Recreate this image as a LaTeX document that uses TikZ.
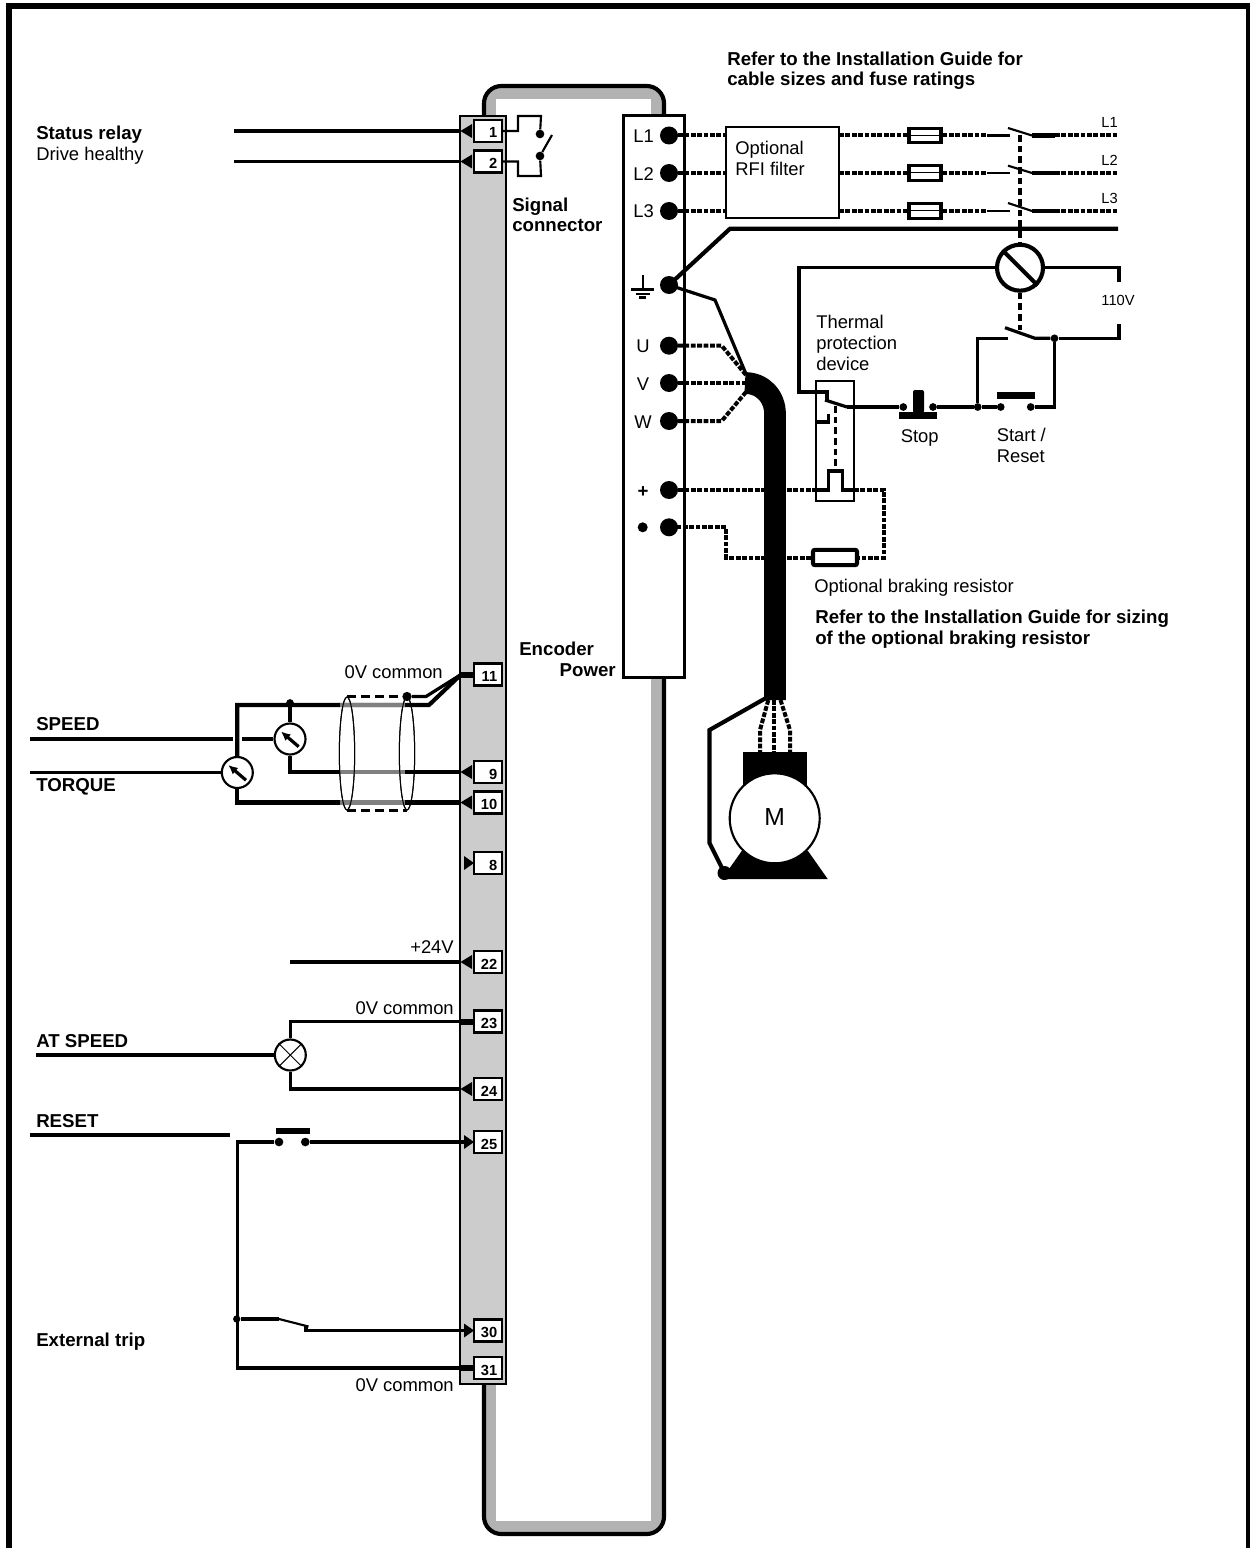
\documentclass[tikz,border=0pt]{standalone}
\usepackage{fontspec}
\setmainfont{Liberation Sans}
\usetikzlibrary{arrows.meta,shapes.geometric}
\definecolor{colgrey}{HTML}{CCCCCC}
\definecolor{tubegrey}{HTML}{B2B2B2}
\definecolor{wiregrey}{HTML}{808080}
\newcommand{\stdtext}{\fontsize{13.8pt}{15pt}\selectfont}
\newcommand{\boldtext}{\fontsize{14pt}{15pt}\selectfont\bfseries}
\tikzset{
  w1/.style={line width=0.75pt},
  w2/.style={line width=1.6pt},
  w3/.style={line width=2.4pt},
  w4/.style={line width=3.1pt},
  wire/.style={w3,line join=miter},
  dotwire/.style={line width=3pt,dash pattern=on 3.6pt off 1.2pt},
  dashwire/.style={line width=2.4pt,dash pattern=on 5pt off 3pt},
  txt/.style={inner sep=0pt,anchor=base west,font=\stdtext},
  txtb/.style={txt,font=\boldtext},
  txtr/.style={inner sep=0pt,anchor=base east,font=\stdtext},
  small/.style={inner sep=0pt,anchor=base,font=\fontsize{11pt}{12pt}\selectfont},
  termbox/.style={draw,w2,fill=white,minimum width=21pt,minimum height=16.5pt,inner sep=0pt},
  termnum/.style={inner sep=0pt,anchor=base east,font=\fontsize{11pt}{12pt}\selectfont\bfseries},
  bigdot/.style={circle,fill=black,inner sep=0pt,minimum size=13.5pt},
  smalldot/.style={circle,fill=black,inner sep=0pt,minimum size=5.8pt},
  meter/.style={circle,draw,w2,fill=white,inner sep=0pt,minimum size=23.25pt},
  shield/.style={ellipse,draw,w1,inner sep=0pt,minimum width=11.5pt,minimum height=84.75pt},
  fuse/.style={draw,w3,fill=white,inner sep=0pt,minimum width=24pt,minimum height=11pt},
}
\newcommand{\term}[3]{%
  \node[termbox] (t#1) at (488,#2) {};
  \node[termnum] (n#1) at (497.5,#2+7) {#3};
  \coordinate (p#1) at (461,#2);
  \coordinate (q#1) at (465,#2);}
\newcommand{\triL}[1]{\fill (460.5,#1) -- (472,#1-7) -- (472,#1+7) -- cycle;}
\newcommand{\triR}[1]{\fill (474,#1) -- (464,#1-7) -- (464,#1+7) -- cycle;}
\newcommand{\stub}[1]{\fill (460,#1-3) rectangle (475,#1+3);}
\newcommand{\needle}[1]{\draw[w3,-{Latex[length=7pt,width=6.5pt]}] ([shift={(8.7,7.7)}]#1.center) -- ([shift={(-9,-7.5)}]#1.center);}
\begin{document}
\begin{tikzpicture}[x=0.75pt,y=-0.75pt]
\useasboundingbox (0,0) rectangle (1249,1548);
% frame
\draw[line width=4.5pt,line join=miter] (9,1552) -- (9,6) -- (1248.5,6) -- (1248.5,1552);
% tube
\fill[tubegrey,rounded corners=10pt] (484,86) rectangle (664,1534);
\draw[w4,rounded corners=13pt] (484,86) rectangle (664,1534);
\fill[white] (496,99) rectangle (651,1521);
% columns
\draw[w2,fill=colgrey] (460,116) rectangle (506,1384);
\node[draw,w3,fill=white,inner sep=0pt,minimum width=45.75pt,minimum height=422pt] (power) at (654,396.5) {};
% terminals coordinates
\term{1}{131}{1}\term{2}{161.5}{2}\term{11}{674.5}{11}\term{9}{772}{9}\term{10}{802.5}{10}
\term{8}{863}{8}\term{22}{962}{22}\term{23}{1021.5}{23}\term{24}{1089}{24}\term{25}{1142}{25}
\term{30}{1330.5}{30}\term{31}{1368}{31}
\triL{131}\triL{161.5}\triL{772}\triL{802.5}\triL{962}\triL{1089}
\triR{863}\triR{1142}\triR{1330.5}
\stub{674.5}\stub{1021.5}\stub{1368}
% status relay
\coordinate (r1) at (234,131); \coordinate (r2) at (234,161.5);
\draw[wire] (r1) -- (p1);
\draw[wire] (r2) -- (p2);
\node[smalldot,minimum size=6.5pt] (ra) at (540,134) {};
\node[smalldot,minimum size=6.5pt] (rb) at (540,156) {};
\coordinate (rtip) at (552,135);
\draw[w2] (t1.east) -- (518,131) -- (518,116) -- (541,116) -- (ra);
\draw[w2] (t2.east) -- (518,161.5) -- (518,176) -- (541,176) -- (rb);
\draw[w2] (rb) -- (rtip);
% shielded analog
\coordinate (speedA) at (30,739); \coordinate (speedB) at (233,739); \coordinate (speedC) at (242,739);
\coordinate (torqueA) at (30,772.5);
\node[meter] (mT) at (237.3,772.5) {};
\node[meter] (mS) at (290,739) {};
\draw[wire] (speedA) -- (speedB);
\draw[wire] (speedC) -- (mS.west);
\draw[wire] (torqueA) -- (mT.west);
\coordinate (corner1) at (429,705);
\draw[w4] (mT.north) -- (237.3,705) -- (corner1) -- (p11);
\draw[w4] (mT.south) -- (237.3,802.5) -- (p10);
\node[smalldot] (jS) at (290,703) {};
\draw[w3] (jS) -- (mS.north);
\draw[w3] (mS.south) -- (290,772) -- (p9);
\needle{mT}\needle{mS}
\node[shield] (sh1) at (347,753.5) {};
\node[shield] (sh2) at (407,753.5) {};
\draw[wiregrey,w4] (340,705) -- (405,705);
\draw[wiregrey,w3] (340,772) -- (405,772);
\draw[wiregrey,w4] (340,802.5) -- (405,802.5);
\node[shield] at (347,753.5) {};
\node[shield] at (407,753.5) {};
\draw[w2,dash pattern=on 7pt off 3.5pt] (sh1.north) -- (sh2.north);
\draw[w2,dash pattern=on 7pt off 3.5pt] (sh1.south) -- (sh2.south);
\node[smalldot,minimum size=7pt] (jD) at (407,696.5) {};
\coordinate (corner2) at (426,696.5);
\draw[w3] (jD) -- (corner2) -- (p11);
% +24V
\coordinate (v24) at (290,962);
\draw[wire] (v24) -- (p22);
% at speed lamp
\node[meter] (lamp) at (290.3,1055) {};
\draw[w1] (lamp.north west) -- (lamp.south east);
\draw[w1] (lamp.north east) -- (lamp.south west);
\coordinate (lampA) at (36,1055);
\draw[wire] (lampA) -- (lamp.west);
\draw[wire] (lamp.north) -- (290.3,1021.5) -- (p23);
\draw[wire] (lamp.south) -- (290.3,1089) -- (p24);
% reset
\coordinate (resetA) at (30,1135); \coordinate (resetB) at (230,1135);
\draw[wire] (resetA) -- (resetB);
\node[smalldot,minimum size=6.5pt] (ra1) at (279,1142) {};
\node[smalldot,minimum size=6.5pt] (ra2) at (305.3,1142) {};
\fill (276,1128) rectangle (310,1134);
\draw[wire] (ra2) -- (q25);
\draw[wire] (ra1) -- (237.3,1142) -- (237.3,1368) -- (p31);
% external trip
\node[smalldot,minimum size=5.5pt] (jE) at (236.7,1319) {};
\coordinate (et1) at (279,1319); \coordinate (et2) at (308.5,1326.5); \coordinate (et3) at (306,1330.5);
\draw[w4] (jE) -- (et1);
\draw[w2] (et1) -- (et2);
\draw[wire] (306,1326) -- (et3) -- (q30);
% power terminals
\foreach \n/\y in {L1/135.5,L2/173,L3/211,PE/285,U/345.7,V/383,W/421,P/490,N/527.3}
  \node[bigdot] (\n) at (669,\y) {};
\node[circle,fill=black,inner sep=0pt,minimum size=7.5pt] (nb) at (642.7,527.3) {};
\draw[w2] (642.7,275) -- (642.7,289.5) (631,289.5) -- (654,289.5) (636,294) -- (650,294);
\draw[w2] (639,297.5) -- (646,297.5);
% filter
\node[draw,w2,fill=white,inner sep=0pt,minimum width=85pt,minimum height=68pt] (rfi) at (782.3,172.7) {};
\foreach \n/\y/\ya/\wth in {L1/135.5/128/w4,L2/173/165.7/w4,L3/211/203/w3}{
  \coordinate (a\n) at (725,\y);
  \coordinate (b\n) at (839,\y);
  \node[fuse] (f\n) at (925,\y) {};
  \draw[w1] (f\n.west) -- (f\n.east);
  \coordinate (c\n) at (987,\y);
  \coordinate (d\n) at (1010,\y);
  \coordinate (e\n) at (1008,\ya);
  \coordinate (g\n) at (1032,\y);
  \coordinate (h\n) at (1055,\y);
  \coordinate (k\n) at (1118,\y);
  \draw[dotwire] (\n.center) ++(9,0) -- (a\n);
  \draw[dotwire] (b\n) -- (f\n.west);
  \draw[dotwire] (f\n.east) -- (c\n);
  \draw[w2] (c\n) -- (d\n);
  \draw[w2] (e\n) -- (g\n);
  \draw[\wth] (g\n) -- (h\n);
  \draw[dotwire] (h\n) -- (k\n);
}
% contactor
\node[circle,draw,w4,fill=white,inner sep=0pt,minimum size=34.5pt] (coil) at (1020,267.7) {};
\draw[w4] (coil.north west) -- (coil.south east);
\draw[dashwire] (1020,135) -- (coil.north);
\draw[dashwire] (coil.south) -- (1020,330);
% earth
\coordinate (earthEnd) at (1118,228.7); \coordinate (earthBend) at (730,228.7);
\draw[w4] (PE.center) -- (earthBend) -- (earthEnd);
\coordinate (pebend) at (715,300); \coordinate (cableTop) at (746,374);
\draw[w3] (PE.center) -- (pebend) -- (cableTop);
% control circuit
\coordinate (cw1) at (799,267.7); \coordinate (cw2) at (799,392); \coordinate (cw3) at (827,392); \coordinate (cw4) at (827,400);
\draw[w3,line join=miter] (coil.west) -- (cw1) -- (cw2) -- (cw3) -- (cw4);
\coordinate (cr1) at (1119,267.7); \coordinate (cr2) at (1119,282);
\draw[w3,line join=miter] (coil.east) -- (cr1) -- (cr2);
\coordinate (bl1) at (825,400); \coordinate (bl2) at (847,407);
\draw[w3] (bl1) -- (bl2);
% thermal box
\node[draw,w2,inner sep=0pt,minimum width=28.5pt,minimum height=90pt] (thermal) at (835,441) {};
\draw[w3] (816,422) -- (828.3,422) -- (828.3,414);
\draw[dashwire] (835.7,406) -- (835.7,467);
\draw[w3] (815,490) -- (828.3,490) -- (828.3,471) -- (842.7,471) -- (842.7,490) -- (854,490);
\node[smalldot] (st1) at (903.3,407) {};
\node[smalldot] (st2) at (933,407) {};
\node[smalldot] (jS1) at (977.7,407) {};
\node[smalldot] (sr1) at (1000.7,407) {};
\node[smalldot] (sr2) at (1030.7,407) {};
\node[smalldot] (jS2) at (1054.5,338.3) {};
\draw[w3] (bl2) -- (st1);
\fill (899,412) rectangle (936.7,419);
\fill[rounded corners=1.5pt] (913,390) rectangle (924,413);
\draw[w3] (st2) -- (jS1) -- (sr1);
\fill (996.7,392) rectangle (1035,399);
\draw[w3,line join=miter] (sr2) -- (1054.5,407) -- (jS2);
\coordinate (ma) at (1008,338.3); \coordinate (mb) at (1005,327.7); \coordinate (mc) at (1035,338.3);
\draw[w3,line join=miter] (jS1) -- (977.7,338.3) -- (ma);
\draw[w3] (mb) -- (mc) -- (jS2);
\coordinate (cr3) at (1119,338.3); \coordinate (cr4) at (1119,324);
\draw[w3,line join=miter] (jS2) -- (cr3) -- (cr4);
% braking resistor
\node[draw,w4,fill=white,rounded corners=1.5pt,inner sep=0pt,minimum width=33pt,minimum height=11.5pt] (brake) at (835,557.5) {};
\draw[dotwire] (P.center) ++(9,0) -- (815,490);
\draw[dotwire] (854,490) -- (884,490) -- (884,557.5) -- (brake.east);
\draw[dotwire] (brake.west) -- (726,557.5) -- (726,527.3) -- (N.center);
% UVW
\coordinate (ub) at (721.7,345.7); \coordinate (wb) at (721.7,421);
\coordinate (cu) at (746,375); \coordinate (cv) at (746,383); \coordinate (cw) at (746,392);
\draw[dotwire] (U.center) ++(9,0) -- (ub) -- (cu);
\draw[dotwire] (V.center) ++(9,0) -- (cv);
\draw[dotwire] (W.center) ++(9,0) -- (wb) -- (cw);
% cable
\draw[line width=16.3pt] (745,383) .. controls (762,383) and (775,396) .. (775,414) -- (775,700);
% motor
\coordinate (ml1) at (766,698); \coordinate (ml2) at (709.5,730); \coordinate (ml3) at (709.5,843);
\node[circle,fill=black,inner sep=0pt,minimum size=10.5pt] (foot) at (724.5,873) {};
\draw[w4,line join=miter] (ml1) -- (ml2) -- (ml3) -- (foot.center);
\fill (741.7,851) -- (722,879) -- (827.7,879) -- (808,851) -- cycle;
\fill (743.3,751.7) rectangle (806.7,790);
\draw[dotwire] (768.3,700) -- (760,730) -- (760,752);
\draw[dotwire] (774.4,700) -- (774.4,752);
\draw[dotwire] (780.5,700) -- (790,730) -- (790,752);
\node[circle,draw,w2,fill=white,inner sep=0pt,minimum size=67.5pt] (motor) at (774.7,818.3) {};
\node[inner sep=0pt,anchor=base,font=\fontsize{18.5pt}{20pt}\selectfont] (mtxt) at (774.7,825) {M};
% texts
\node[txtb] (x1) at (727,66) {Refer to the Installation Guide for};
\node[txtb] (x2) at (727,86) {cable sizes and fuse ratings};
\node[txtb] (x3) at (36,139.5) {Status relay};
\node[txt] (x4) at (36,160.5) {Drive healthy};
\node[txtb] (x5) at (512,211.5) {Signal};
\node[txtb] (x6) at (512,232) {connector};
\node[txt] (x7) at (633,143) {L1};
\node[txt] (x8) at (633,181) {L2};
\node[txt] (x9) at (633,218) {L3};
\node[txt,anchor=base] (x10) at (643,352) {U};
\node[txt,anchor=base] (x11) at (643,390) {V};
\node[txt,anchor=base] (x12) at (643,428) {W};
\node[txtb,anchor=base] (x13) at (643,497) {+};
\node[txt] (x14) at (735,155) {Optional};
\node[txt] (x15) at (735,176) {RFI filter};
\node[small,anchor=base east] (x16) at (1118,128) {L1};
\node[small,anchor=base east] (x17) at (1118,166) {L2};
\node[small,anchor=base east] (x18) at (1118,204) {L3};
\node[small] (x19) at (1118,305) {110V};
\node[txt] (x20) at (816,328) {Thermal};
\node[txt] (x21) at (816,349) {protection};
\node[txt] (x22) at (816,370) {device};
\node[txt] (x23) at (900.5,442) {Stop};
\node[txt] (x24) at (996.5,441) {Start /};
\node[txt] (x25) at (996.5,462) {Reset};
\node[txt] (x26) at (814,592) {Optional braking resistor};
\node[txtb] (x27) at (815,623) {Refer to the Installation Guide for sizing};
\node[txtb] (x28) at (815,644) {of the optional braking resistor};
\node[txtb] (x29) at (519,655) {Encoder};
\node[txtb,anchor=base east] (x30) at (616,676) {Power};
\node[txtr] (x31) at (443,678) {0V common};
\node[txtb] (x32) at (36,730) {SPEED};
\node[txtb] (x33) at (36,791) {TORQUE};
\node[txtr] (x34) at (454,953) {+24V};
\node[txtr] (x35) at (454,1014) {0V common};
\node[txtb] (x36) at (36,1047) {AT SPEED};
\node[txtb] (x37) at (36,1127) {RESET};
\node[txtb] (x38) at (36,1346) {External trip};
\node[txtr] (x39) at (454,1391) {0V common};
\end{tikzpicture}
\end{document}
